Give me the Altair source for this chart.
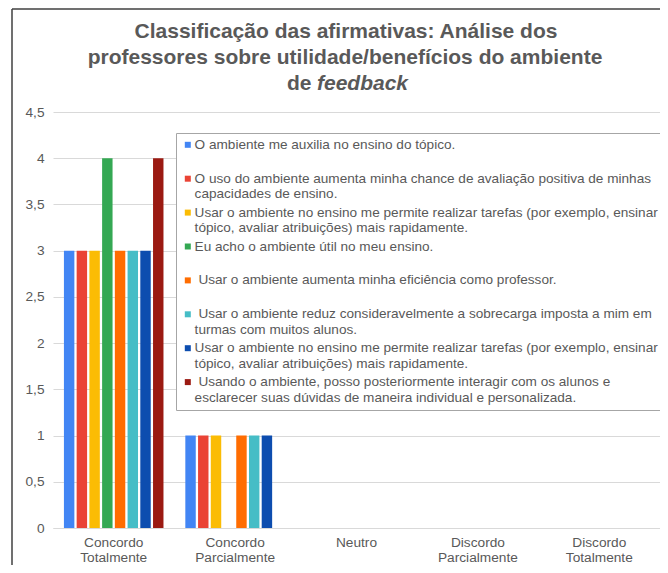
import altair as alt
import pandas as pd

categories = ["Concordo Totalmente", "Concordo Parcialmente", "Neutro",
              "Discordo Parcialmente", "Discordo Totalmente"]

LEAD = "\u200b\u00a0"  # visible leading space, as in the reference legend
series = [
    "O ambiente me auxilia no ensino do tópico.",
    "O uso do ambiente aumenta minha chance de avaliação positiva de minhas\ncapacidades de ensino.",
    "Usar o ambiente no ensino me permite realizar tarefas (por exemplo, ensinar o\ntópico, avaliar atribuições) mais rapidamente.",
    "Eu acho o ambiente útil no meu ensino.",
    LEAD + "Usar o ambiente aumenta minha eficiência como professor.",
    LEAD + "Usar o ambiente reduz consideravelmente a sobrecarga imposta a mim em\nturmas com muitos alunos.",
    "Usar o ambiente no ensino me permite realizar tarefas (por exemplo, ensinar o\ntópico, avaliar atribuições) mais rapidamente.\u200b",
    LEAD + "Usando o ambiente, posso posteriormente interagir com os alunos e\nesclarecer suas dúvidas de maneira individual e personalizada.",
]

colors = ["#4285F4", "#EA4335", "#FBBC04", "#34A853",
          "#FF6D01", "#46BDC6", "#0D4DAF", "#9B1A12"]

concordo_totalmente = [3, 3, 3, 4, 3, 3, 3, 4]
concordo_parcialmente = [1, 1, 1, 0, 1, 1, 1, 0]
neutro = [0, 0, 0, 0, 0, 0, 0, 0]
discordo_parcialmente = [0, 0, 0, 0, 0, 0, 0, 0]
discordo_totalmente = [0, 0, 0, 0, 0, 0, 0, 0]

y_ticks = [0, 0.5, 1, 1.5, 2, 2.5, 3, 3.5, 4, 4.5]

title_line1 = "Classificação das afirmativas: Análise dos"
title_line2 = "professores sobre utilidade/benefícios do ambiente"
title_last_plain = "de"
title_last_italic = "feedback"

rows = []
for cat, vals in zip(categories, [concordo_totalmente, concordo_parcialmente, neutro,
                                  discordo_parcialmente, discordo_totalmente]):
    for s, v in zip(series, vals):
        rows.append({"categoria": cat, "serie": s, "valor": v})
df = pd.DataFrame(rows)

FONT = "Liberation Sans"
GRAY = "#595959"
FS = 13.7

bars = alt.Chart(df).mark_bar().encode(
    x=alt.X("categoria:N", sort=categories,
            scale=alt.Scale(paddingInner=0.18, paddingOuter=0.09),
            axis=alt.Axis(title=None, labelAngle=0, labelExpr="split(datum.label, ' ')",
                          domain=True, domainColor="#d9d9d9", ticks=False, grid=False,
                          labelPadding=7, labelFont=FONT, labelFontSize=FS,
                          labelColor=GRAY, labelLineHeight=15)),
    xOffset=alt.XOffset("serie:N", sort=series,
                        scale=alt.Scale(paddingInner=0.18, paddingOuter=0)),
    y=alt.Y("valor:Q", scale=alt.Scale(domain=[0, 4.5], nice=False),
            axis=alt.Axis(title=None, values=y_ticks,
                          labelExpr="replace(format(datum.value, '.1~f'), '.', ',')",
                          domain=False, ticks=False, gridColor="#d9d9d9",
                          labelPadding=9, labelFont=FONT, labelFontSize=FS,
                          labelColor=GRAY)),
    color=alt.Color("serie:N", sort=series,
                    scale=alt.Scale(domain=series, range=colors),
                    legend=alt.Legend(
                        orient="none", legendX=123, legendY=21, title=None,
                        direction="vertical",
                        fillColor="white", strokeColor="#a6a6a6",
                        padding=5, symbolType="square", symbolSize=36,
                        symbolStrokeWidth=0, labelFont=FONT, labelFontSize=13.6,
                        labelColor=GRAY, labelLimit=3000, rowPadding=3.9,
                        labelOffset=0,
                        labelExpr="length(split(datum.label, '\\n')) > 1 ? split(datum.label, '\\n') : [datum.label, '']",
                    )),
)

one = pd.DataFrame({"k": [0]})

frame_top = alt.Chart(one).mark_rule(color="#404040", strokeWidth=1.5).encode(
    x=alt.value(-41), x2=alt.value(640), y=alt.value(-103))
frame_left = alt.Chart(one).mark_rule(color="#404040", strokeWidth=1.5).encode(
    x=alt.value(-41), y=alt.value(-103), y2=alt.value(480))

title_style = dict(font=FONT, fontSize=21, fontWeight="bold", color=GRAY,
                   baseline="alphabetic")
t1 = alt.Chart(one).mark_text(text=title_line1, align="center", **title_style).encode(
    x=alt.value(293), y=alt.value(-74))
t2 = alt.Chart(one).mark_text(text=title_line2, align="center", **title_style).encode(
    x=alt.value(292), y=alt.value(-48))
t3a = alt.Chart(one).mark_text(text=title_last_plain, align="right", **title_style).encode(
    x=alt.value(258.5), y=alt.value(-22))
t3b = alt.Chart(one).mark_text(text=title_last_italic, align="left", fontStyle="italic",
                               **title_style).encode(
    x=alt.value(264), y=alt.value(-22))

chart = alt.layer(bars, frame_top, frame_left, t1, t2, t3a, t3b).properties(
    width=607, height=416,
    padding={"left": 45, "top": 104, "right": 0, "bottom": 37},
    autosize=alt.AutoSizeParams(type="none"),
    background="white",
).configure_view(stroke=None)

chart.save("out.html", embed_options={"renderer": "svg", "actions": False})
